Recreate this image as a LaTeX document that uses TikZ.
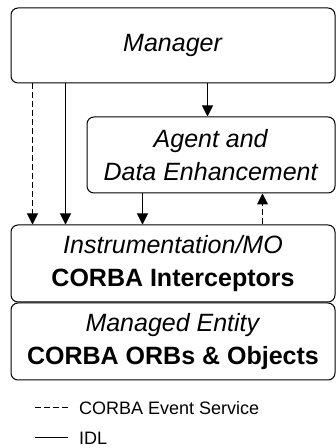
\documentclass[tikz,border=0pt]{standalone}
\usepackage{fontspec}
\setmainfont{Liberation Sans}
\usetikzlibrary{arrows.meta,positioning}
\tikzset{box/.style={draw, rounded corners=7pt, line width=1pt, minimum width=324pt, minimum height=77pt, inner sep=0pt, align=center, font=\fontsize{25}{32.5}\selectfont},
  idl/.style={line width=1pt}, evt/.style={idl, dash pattern=on 6pt off 3pt},
  tip/.style={-{Triangle[length=11pt,width=11pt]}},
  legend/.style={anchor=west, inner sep=0pt, font=\fontsize{18}{20}\selectfont}}

\begin{document}
\begin{tikzpicture}[x=1pt,y=1pt]
    \useasboundingbox (0,0) rectangle (336,448);
    \node[box, minimum height=75pt] (manager) at (173,402.5) {\textit{Manager}};
    \node[box, minimum width=248pt, minimum height=76pt] (agent) at (211,293) {\textit{Agent and}\\\textit{Data Enhancement}};
    \node[box] (instr) at (173,184.5) {\textit{Instrumentation/MO}\\\textbf{CORBA Interceptors}};
    \node[box, below=0pt of instr] (entity) {\textit{Managed Entity}\\\textbf{CORBA ORBs \& Objects}};
    % connectors
    \draw[evt,tip] ([xshift=22pt]manager.south west) -- ([xshift=22pt]instr.north west);
    \draw[idl,tip] ([xshift=55pt]manager.south west) -- ([xshift=55pt]instr.north west);
    \draw[idl,tip] ([xshift=197pt]manager.south west) -- ([xshift=121pt]agent.north west);
    \draw[idl,tip] ([xshift=56pt]agent.south west) -- ([xshift=132pt]instr.north west);
    \draw[evt,tip] ([xshift=252pt]instr.north west) -- ([xshift=176pt]agent.south west);
    % legend
    \node[legend] (evtlbl) at (79,40) {CORBA Event Service};
    \node[legend] (idllbl) at (79,10) {IDL};
    \draw[evt] ([xshift=-44pt]evtlbl.west) -- ([xshift=-11pt]evtlbl.west);
    \draw[idl] ([xshift=-44pt]idllbl.west) -- ([xshift=-11pt]idllbl.west);
\end{tikzpicture}
\end{document}
